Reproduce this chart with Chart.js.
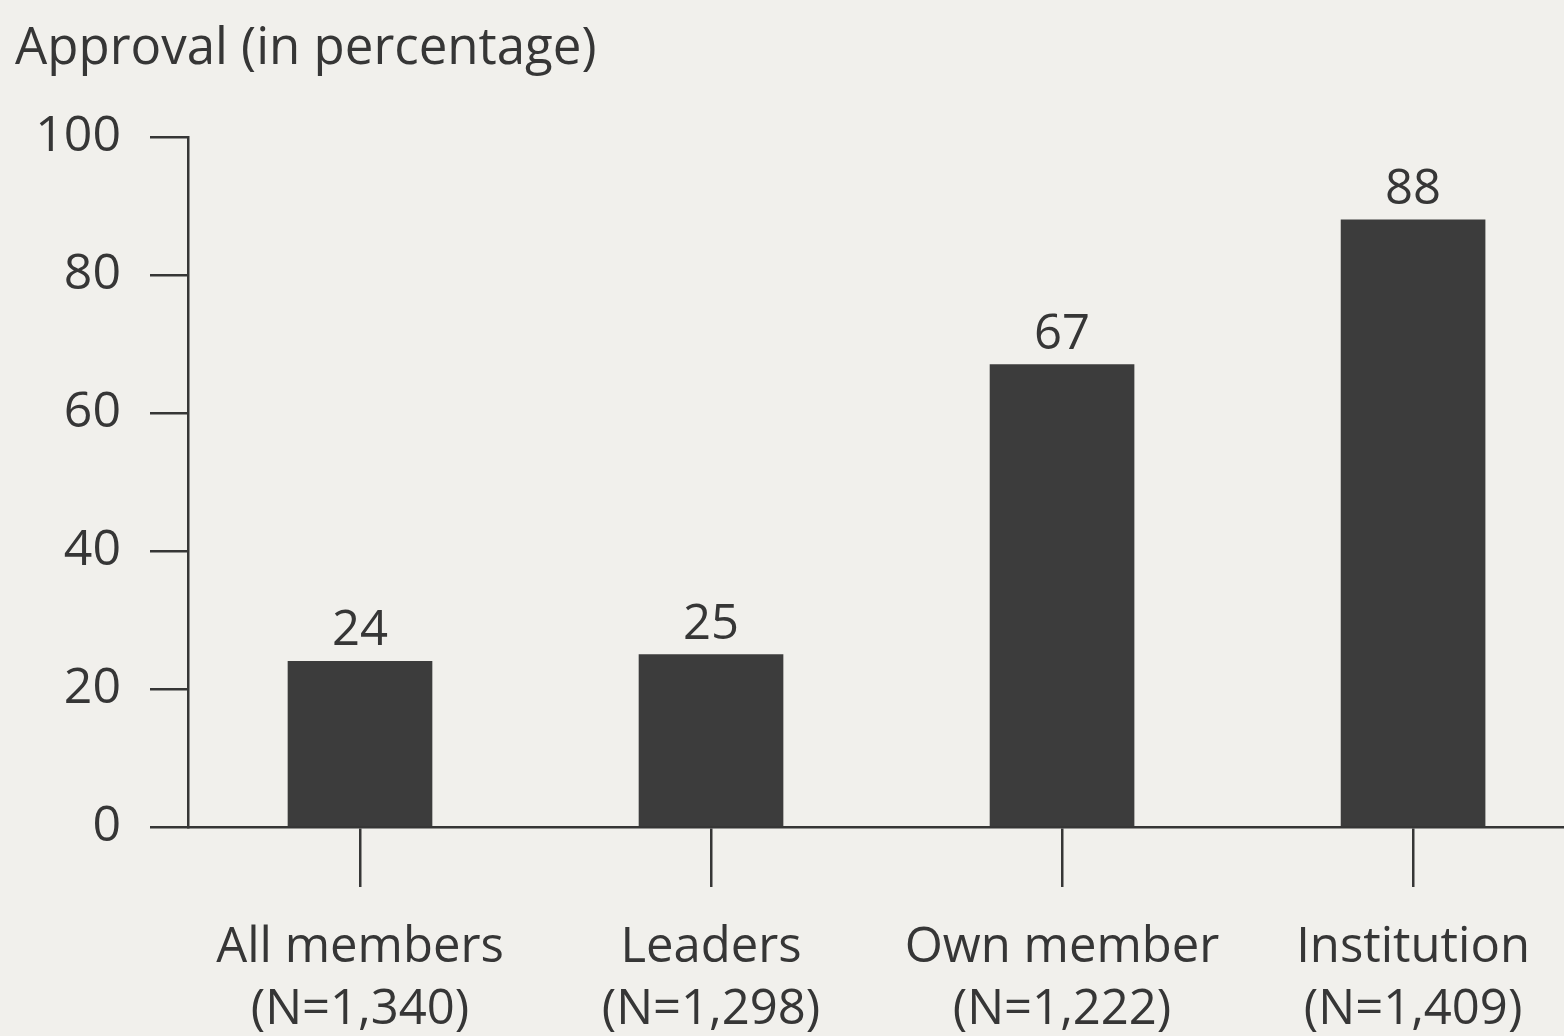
<!DOCTYPE html>
<html>
<head>
<meta charset="utf-8">
<script src="https://cdn.jsdelivr.net/npm/chart.js@4.4.1/dist/chart.umd.min.js"></script>
<style>
  html, body { margin: 0; padding: 0; background: #f1f0ec; }
  #wrap { width: 1564px; height: 1036px; position: relative; }
</style>
</head>
<body>
<div id="wrap"><canvas id="barChart"></canvas></div>
<script>
var categories = [['All members', '(N=1,340)'], ['Leaders', '(N=1,298)'], ['Own member', '(N=1,222)'], ['Institution', '(N=1,409)']];
var approval = [24, 25, 67, 88];
var yTicks = [0, 20, 40, 60, 80, 100];

var ink = '#363636';
var fontFamily = '"Open Sans", "Noto Sans", sans-serif';

// titre en haut a gauche + valeurs au-dessus des barres
var labelsPlugin = {
  id: 'labelsPlugin',
  afterDatasetsDraw: function (chart) {
    var ctx = chart.ctx;
    ctx.save();
    ctx.fillStyle = ink;
    ctx.font = '49px ' + fontFamily;
    ctx.textAlign = 'center';
    ctx.textBaseline = 'alphabetic';
    chart.getDatasetMeta(0).data.forEach(function (bar, i) {
      ctx.fillText(String(approval[i]), bar.x, bar.y - 16);
    });
    ctx.font = '51px ' + fontFamily;
    ctx.textAlign = 'left';
    ctx.fillText('Approval (in percentage)', 15, 64);
    ctx.restore();
  }
};

document.addEventListener('DOMContentLoaded', function () {
  var ctx = document.getElementById('barChart').getContext('2d');
  var data = {
    datasets: [{
      data: approval.map(function (v, i) { return { x: i, y: v }; }),
      backgroundColor: '#3c3c3c',
      borderWidth: 0,
      barThickness: 144
    }]
  };
  new Chart(ctx, {
    type: 'bar',
    data: data,
    plugins: [labelsPlugin],
    options: {
      responsive: true,
      maintainAspectRatio: false,
      animation: false,
      layout: { padding: { top: 137, right: 0, left: 0, bottom: 0 } },
      plugins: { legend: { display: false }, tooltip: { enabled: false } },
      scales: {
        x: {
          type: 'linear',
          offset: false,
          min: -0.49,
          max: 3.43,
          afterBuildTicks: function (s) {
            s.ticks = categories.map(function (c, i) { return { value: i }; });
          },
          afterFit: function (s) { s.height = 209; },
          border: { display: true, color: ink, width: 2.5 },
          grid: { offset: false, drawOnChartArea: false, drawTicks: true, tickLength: 60, color: ink, lineWidth: 2.5 },
          ticks: {
            padding: 30,
            color: ink,
            font: { family: fontFamily, size: 49, lineHeight: 1.27 },
            maxRotation: 0,
            autoSkip: false,
            callback: function (v) { return categories[v]; }
          }
        },
        y: {
          min: 0,
          max: 100,
          afterBuildTicks: function (s) {
            s.ticks = yTicks.map(function (v) { return { value: v }; });
          },
          afterFit: function (s) { s.width = 188; },
          border: { display: true, color: ink, width: 2.5 },
          grid: { drawOnChartArea: false, drawTicks: true, tickLength: 38, color: ink, lineWidth: 2.5 },
          ticks: {
            padding: 29,
            color: ink,
            font: { family: fontFamily, size: 50 }
          }
        }
      }
    }
  });
});
</script>
</body>
</html>
